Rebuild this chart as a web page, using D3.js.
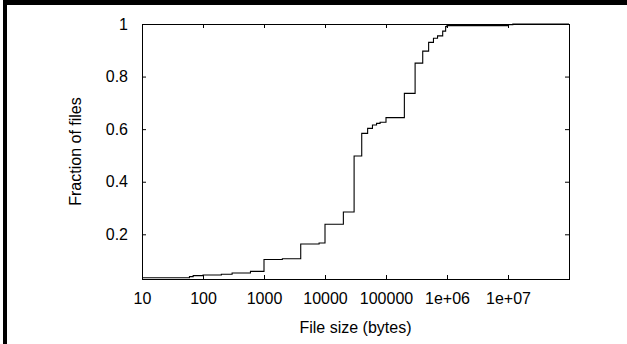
<!DOCTYPE html>
<html>
<head>
<meta charset="utf-8">
<script src="https://cdn.jsdelivr.net/npm/d3@7"></script>
<style>
  body { margin: 0; background: #fff; }
  svg { display: block; }
  text { font-family: "Liberation Sans", Arial, Helvetica, sans-serif; }
</style>
</head>
<body>
<div id="chart"></div>
<script>
// file size (bytes) where the CDF steps up, and fraction of files after the step
var sizes = [10, 60, 69, 100, 200, 300, 600, 1000, 2000, 4000, 8000, 10000, 20000, 30000,
             40000, 50000, 60000, 70000, 80000, 100000, 200000, 300000, 400000, 500000,
             600000, 700000, 850000, 950000, 1000000, 10000000, 12000000, 100000000];
var fractions = [0.035, 0.039, 0.043, 0.045, 0.048, 0.053, 0.059, 0.104, 0.107, 0.163, 0.167, 0.238, 0.285, 0.498,
                 0.584, 0.603, 0.616, 0.622, 0.626, 0.644, 0.736, 0.851, 0.897, 0.930,
                 0.946, 0.955, 0.973, 0.990, 0.994, 0.997, 1.0, 1.0];

var xTicks = [10, 100, 1000, 10000, 100000, 1e6, 1e7];
var xTickLabels = ["10", "100", "1000", "10000", "100000", "1e+06", "1e+07"];
var yTicks = [0.2, 0.4, 0.6, 0.8, 1];
var yTickLabels = ["0.2", "0.4", "0.6", "0.8", "1"];

var width = 627, height = 344;
var margin = {left: 142, right: 58, top: 24, bottom: 65};

var svg = d3.select("#chart").append("svg")
    .attr("width", width)
    .attr("height", height);

// frame of the page (top and left edge only)
svg.append("rect").attr("x", 3).attr("y", 0).attr("width", width - 3).attr("height", 5).attr("fill", "#000");
svg.append("rect").attr("x", 3).attr("y", 0).attr("width", 4).attr("height", height).attr("fill", "#000");

var x = d3.scaleLog()
    .domain([10, 1e8])
    .range([margin.left, width - margin.right]);

var y = d3.scaleLinear()
    .domain([0.03, 1])
    .range([height - margin.bottom, margin.top]);

var data = sizes.map(function (s, i) { return {size: s, frac: fractions[i]}; });

var line = d3.line()
    .x(function (d) { return x(d.size); })
    .y(function (d) { return y(d.frac); })
    .curve(d3.curveStepAfter);

svg.append("path")
    .datum(data)
    .attr("d", line)
    .attr("fill", "none")
    .attr("stroke", "#000")
    .attr("stroke-width", 1.1);

var tickLen = 4;

// ticks on all four sides, pointing inward
var bottomAxis = d3.axisBottom(x).tickValues(xTicks).tickSize(-tickLen).tickFormat(function (d, i) { return xTickLabels[i]; }).tickPadding(14);
var topAxis = d3.axisTop(x).tickValues(xTicks).tickSize(-tickLen).tickFormat("");
var leftAxis = d3.axisLeft(y).tickValues(yTicks).tickSize(-tickLen).tickFormat(function (d, i) { return yTickLabels[i]; }).tickPadding(14);
var rightAxis = d3.axisRight(y).tickValues(yTicks).tickSize(-tickLen).tickFormat("");

function styleAxis(g) {
    g.select(".domain").remove();
    g.selectAll(".tick line").attr("stroke", "#000");
    g.selectAll(".tick text").attr("fill", "#000").attr("font-size", 16)
        .attr("font-family", "'Liberation Sans', Arial, sans-serif");
}

svg.append("g").attr("transform", "translate(0," + (height - margin.bottom) + ")").call(bottomAxis).call(styleAxis);
svg.append("g").attr("transform", "translate(0," + margin.top + ")").call(topAxis).call(styleAxis);
svg.append("g").attr("transform", "translate(" + margin.left + ",0)").call(leftAxis).call(styleAxis);
svg.append("g").attr("transform", "translate(" + (width - margin.right) + ",0)").call(rightAxis).call(styleAxis);

// plot border
svg.append("rect")
    .attr("x", margin.left + 0.5)
    .attr("y", margin.top + 0.5)
    .attr("width", width - margin.right - margin.left)
    .attr("height", height - margin.bottom - margin.top)
    .attr("fill", "none")
    .attr("stroke", "#000")
    .attr("stroke-width", 1);

svg.append("text")
    .attr("x", (margin.left + width - margin.right) / 2)
    .attr("y", 333)
    .attr("text-anchor", "middle")
    .attr("font-size", 16)
    .text("File size (bytes)");

svg.append("text")
    .attr("transform", "translate(81," + ((margin.top + height - margin.bottom) / 2) + ") rotate(-90)")
    .attr("text-anchor", "middle")
    .attr("font-size", 16)
    .text("Fraction of files");
</script>
</body>
</html>
